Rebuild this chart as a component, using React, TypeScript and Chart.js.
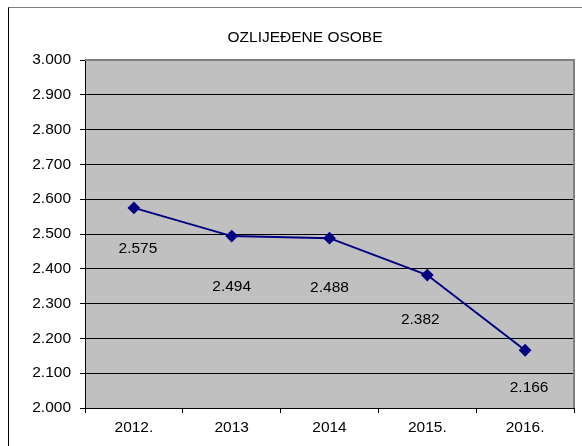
import React, { useEffect, useRef } from "react";
import { Chart, registerables } from "chart.js";

Chart.register(...registerables);

const categories = ["2012.", "2013", "2014", "2015.", "2016."];
const values = [2575, 2494, 2488, 2382, 2166];
const yMin = 2000;
const yMax = 3000;
const yStep = 100;
const titleText = "OZLIJEĐENE OSOBE";
// label placement (pixel offsets from each point), as in the original
const labelDx = [4, 0, 0, -7, 4];
const labelDy = [41, 51, 50, 45, 37];

const FONT = "'Liberation Sans', Arial, sans-serif";
const FS = 15.5;

const fmt = (v: number) => {
  const t = Math.floor(v / 1000);
  const r = Math.round(v % 1000);
  return `${t}.${String(r).padStart(3, "0")}`;
};

const bgPlugin = {
  id: "plotBg",
  beforeDraw(chart: any) {
    const { ctx, chartArea: a } = chart;
    ctx.save();
    ctx.fillStyle = "#C0C0C0";
    ctx.fillRect(a.left, a.top, a.right - a.left, a.bottom - a.top);
    ctx.restore();
  },
  afterDraw(chart: any) {
    const { ctx, chartArea: a } = chart;
    ctx.save();
    ctx.strokeStyle = "#808080";
    ctx.lineWidth = 2;
    ctx.beginPath();
    ctx.moveTo(a.left, a.top);
    ctx.lineTo(a.right, a.top);
    ctx.lineTo(a.right, a.bottom);
    ctx.stroke();
    // title, centred on the whole chart box
    ctx.font = `${FS}px ${FONT}`;
    ctx.fillStyle = "#000";
    ctx.textAlign = "center";
    ctx.textBaseline = "middle";
    ctx.fillText(titleText, chart.width / 2, 30);
    ctx.restore();
  },
};

const labelPlugin = {
  id: "valLabels",
  afterDatasetsDraw(chart: any) {
    const { ctx } = chart;
    const meta = chart.getDatasetMeta(0);
    ctx.save();
    ctx.font = `${FS}px ${FONT}`;
    ctx.fillStyle = "#000";
    ctx.textAlign = "center";
    ctx.textBaseline = "middle";
    meta.data.forEach((pt: any, i: number) => {
      ctx.fillText(fmt(values[i]), pt.x + labelDx[i], pt.y + labelDy[i]);
    });
    ctx.restore();
  },
};

export default function App() {
  const ref = useRef<HTMLCanvasElement>(null);
  useEffect(() => {
    if (!ref.current) return;
    const chart = new Chart(ref.current, {
      type: "line",
      data: {
        labels: categories,
        datasets: [
          {
            data: values,
            borderColor: "#000080",
            backgroundColor: "#000080",
            borderWidth: 2,
            pointStyle: "rectRot",
            pointRadius: 5,
            pointBackgroundColor: "#000080",
            pointBorderColor: "#000080",
            tension: 0,
          },
        ],
      },
      options: {
        responsive: false,
        animation: false,
        devicePixelRatio: 1,
        layout: { padding: { left: 0, right: 27, top: 52, bottom: 0 } },
        plugins: {
          legend: { display: false },
          tooltip: { enabled: false },
          title: { display: false },
        },
        scales: {
          x: {
            offset: true,
            grid: {
              offset: true,
              drawOnChartArea: false,
              drawTicks: true,
              tickLength: 5,
              tickColor: "#000",
            },
            border: { color: "#000", width: 1 },
            ticks: {
              color: "#000",
              font: { family: FONT, size: FS },
              padding: 5,
              maxRotation: 0,
            },
            afterFit: (s: any) => {
              s.height = 40;
            },
          },
          y: {
            min: yMin,
            max: yMax,
            grid: {
              color: (c: any) => (c.tick && c.tick.value === yMax ? "rgba(0,0,0,0)" : "#000"),
              tickColor: "#000",
              tickLength: 5,
              lineWidth: 1,
            },
            border: { color: "#000", width: 1 },
            ticks: {
              stepSize: yStep,
              color: "#000",
              padding: 9,
              font: { family: FONT, size: FS },
              callback: (v: any) => fmt(Number(v)),
            },
            afterFit: (s: any) => {
              s.width = 76;
            },
          },
        },
      },
      plugins: [bgPlugin, labelPlugin],
    });
    return () => chart.destroy();
  }, []);

  return (
    <div
      style={{
        position: "fixed",
        left: 0,
        top: 0,
        width: 582,
        height: 446,
        overflow: "hidden",
        background: "#fff",
      }}
    >
      <div
        style={{
          position: "absolute",
          left: 8,
          top: 7,
          borderLeft: "1px solid #000",
          borderTop: "1px solid #808080",
        }}
      >
        <canvas ref={ref} width={592} height={440} style={{ display: "block" }} />
      </div>
    </div>
  );
}
